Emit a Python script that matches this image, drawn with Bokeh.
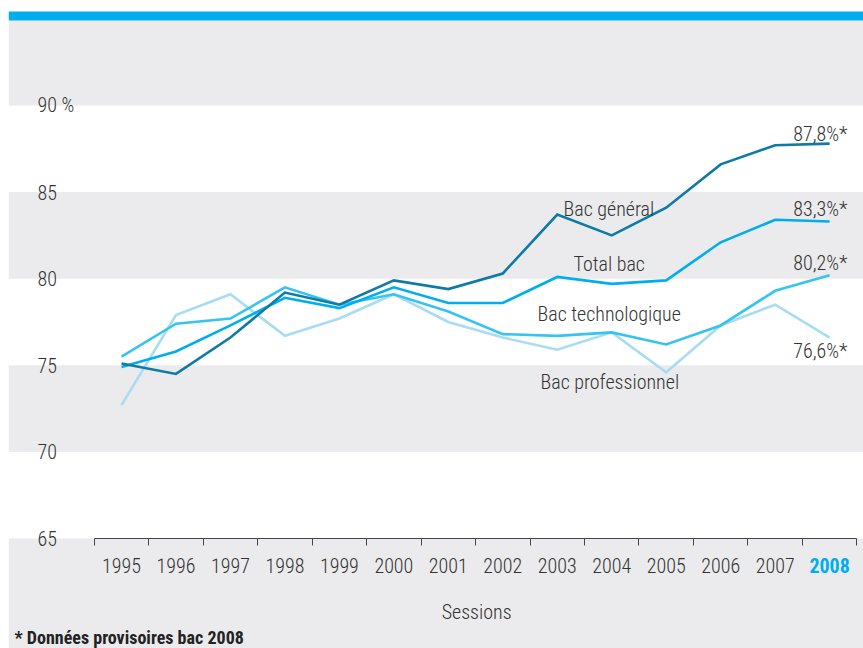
from bokeh.plotting import figure
from bokeh.models import Range1d, LinearAxis, FixedTicker, BoxAnnotation, ColumnDataSource
from bokeh.core.properties import value
from bokeh.embed import file_html
from bokeh.resources import INLINE

years = ["1995", "1996", "1997", "1998", "1999", "2000", "2001", "2002",
         "2003", "2004", "2005", "2006", "2007", "2008"]
bac_general = [75.1, 74.5, 76.6, 79.2, 78.5, 79.9, 79.4, 80.3, 83.7, 82.5, 84.1, 86.6, 87.7, 87.8]
total_bac = [74.9, 75.8, 77.3, 78.9, 78.3, 79.5, 78.6, 78.6, 80.1, 79.7, 79.9, 82.1, 83.4, 83.3]
bac_techno = [75.5, 77.4, 77.7, 79.5, 78.5, 79.1, 78.1, 76.8, 76.7, 76.9, 76.2, 77.3, 79.3, 80.2]
bac_pro = [72.7, 77.9, 79.1, 76.7, 77.7, 79.1, 77.5, 76.6, 75.9, 76.9, 74.6, 77.3, 78.5, 76.6]
y_ticks = [65, 70, 75, 80, 85, 90]
y_tick_labels = ["65", "70", "75", "80", "85", "90 %"]
series_names = ["Bac général", "Total bac", "Bac technologique", "Bac professionnel"]
end_labels = ["87,8%*", "83,3%*", "80,2%*", "76,6%*"]
footnote = "* Données provisoires bac 2008"
x_title = "Sessions"

LIGHT = "Roboto Condensed Light"
BOLDF = "Roboto Condensed"
TXT = "#333333"
GRAY = "#ebebed"
BLUE = "#00aeef"
colors = ["#0e7aa6", "#00aeef", "#37c3f2", "#a8dcf2"]

W, H = 863, 648
p = figure(width=W, height=H, output_backend="svg", toolbar_location=None,
           x_range=Range1d(-2.0745, 13.622), y_range=Range1d(58.65, 96.06),
           x_axis_type=None, y_axis_type=None, min_border=0, min_border_left=8,
           background_fill_color="white", border_fill_color="white",
           outline_line_color=None)
p.grid.visible = False

# background bands
p.add_layout(BoxAnnotation(top=65, fill_color=GRAY, fill_alpha=1, line_color=None, level="underlay"))
p.add_layout(BoxAnnotation(bottom=70, top=75, fill_color=GRAY, fill_alpha=1, line_color=None, level="underlay"))
p.add_layout(BoxAnnotation(bottom=80, top=85, fill_color=GRAY, fill_alpha=1, line_color=None, level="underlay"))
p.add_layout(BoxAnnotation(bottom=90, top=94.91, fill_color=GRAY, fill_alpha=1, line_color=None, level="underlay"))
p.add_layout(BoxAnnotation(bottom=94.91, top=95.43, fill_color=BLUE, fill_alpha=1, line_color=None, level="underlay"))

xs = list(range(len(years)))

# x axis with ticks at category boundaries
xaxis = LinearAxis(fixed_location=65, ticker=FixedTicker(ticks=[i - 0.5 for i in range(len(years) + 1)]),
                   bounds=(-0.5, len(years) - 0.5), axis_line_color="#444444", axis_line_width=1,
                   major_tick_line_color="#444444", major_tick_out=7, major_tick_in=0,
                   minor_tick_line_color=None, major_label_text_font_size="0px",
                   major_label_text_alpha=0)
p.add_layout(xaxis, "below")

# year labels (last one, provisional, in bold blue)
n = len(years)
src_years = ColumnDataSource(dict(
    x=xs, y=[63.44] * n, t=years,
    c=[TXT] * (n - 1) + [BLUE],
    s=["normal"] * (n - 1) + ["bold"],
    f=[LIGHT] * (n - 1) + [BOLDF],
))
p.text(x="x", y="y", text="t", text_color="c", text_font_style="s", text_font="f",
       source=src_years, text_font_size="20px", text_align="center", text_baseline="middle")

# y tick labels
p.text(x=[-1.542] * len(y_ticks), y=y_ticks, text=y_tick_labels, text_color=TXT,
       text_font=value(LIGHT), text_font_size="20px", text_align="left", text_baseline="middle")

# lines
for vals, col in zip([bac_pro, bac_techno, total_bac, bac_general], [colors[3], colors[2], colors[1], colors[0]]):
    p.line(xs, vals, line_color=col, line_width=2.6, line_join="miter")

# series labels
p.text(x=[8.115, 8.298, 7.637, 7.692], y=[84.05, 80.82, 77.99, 74.06], text=series_names,
       text_color=TXT, text_font=value(LIGHT), text_font_size="20px",
       text_align="left", text_baseline="middle")

# end labels
p.text(x=[13.33] * 4, y=[88.38, 84.05, 80.88, 75.85], text=end_labels,
       text_color=TXT, text_font=value(LIGHT), text_font_size="20px",
       text_align="right", text_baseline="middle")

# axis title
p.text(x=[6.52], y=[60.73], text=[x_title], text_color=TXT, text_font=value(LIGHT),
       text_font_size="20px", text_align="center", text_baseline="middle")

# footnote
p.text(x=[-1.964], y=[59.29], text=[footnote], text_color="#222222", text_font=value(BOLDF),
       text_font_size="18px", text_font_style="bold", text_align="left", text_baseline="middle")

open("out.html", "w").write(file_html(p, INLINE))
